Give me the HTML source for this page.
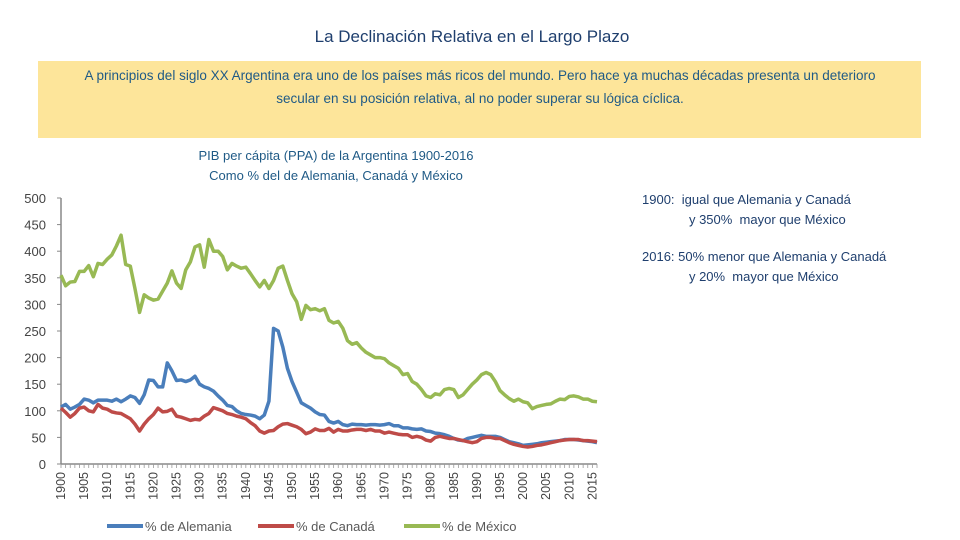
<!DOCTYPE html>
<html><head><meta charset="utf-8"><style>
body{margin:0;width:960px;height:540px;background:#fff;font-family:"Liberation Sans",sans-serif;position:relative;overflow:hidden}
.t{position:absolute;white-space:nowrap}
</style></head><body>
<div class="t" style="left:0;width:944px;top:27px;text-align:center;font-size:17px;color:#1f3f6e">La Declinación Relativa en el Largo Plazo</div>
<div style="position:absolute;left:38px;top:61px;width:883px;height:77px;background:#fde59a"></div>
<div class="t" style="left:80px;width:800px;top:64px;text-align:center;font-size:13.5px;line-height:23px;color:#1f5a86;white-space:normal">A principios del siglo XX Argentina era uno de los países más ricos del mundo. Pero hace ya muchas décadas presenta un deterioro secular en su posición relativa, al no poder superar su lógica cíclica.</div>
<div class="t" style="left:150px;width:372px;top:146px;text-align:center;font-size:13px;line-height:20px;color:#1f5a86">PIB per cápita (PPA) de la Argentina 1900-2016<br>Como % del de Alemania, Canadá y México</div>
<div class="t" style="left:642px;top:190px;font-size:13px;line-height:20px;color:#1f3f6e">1900:&nbsp; igual que Alemania y Canadá<br>&nbsp;&nbsp;&nbsp;&nbsp;&nbsp;&nbsp;&nbsp;&nbsp;&nbsp;&nbsp;&nbsp;&nbsp;&nbsp;y 350%&nbsp; mayor que México</div>
<div class="t" style="left:642px;top:247px;font-size:13px;line-height:20px;color:#1f3f6e">2016: 50% menor que Alemania y Canadá<br>&nbsp;&nbsp;&nbsp;&nbsp;&nbsp;&nbsp;&nbsp;&nbsp;&nbsp;&nbsp;&nbsp;&nbsp;&nbsp;y 20%&nbsp; mayor que México</div>
<svg id="chart" width="960" height="540" style="position:absolute;left:0;top:0"></svg>
<script>
const years=[];for(let y=1900;y<=2016;y++)years.push(y);
const yTicks=[0,50,100,150,200,250,300,350,400,450,500];
const seriesNames=["% de Alemania","% de Canadá","% de México"];
const alemania=[107,112,103,107,112,122,120,115,120,120,120,118,122,117,122,128,125,114,130,158,157,145,145,190,175,157,158,155,158,165,150,145,142,137,128,120,110,108,100,95,93,92,90,85,92,118,255,250,220,180,155,135,115,110,105,98,93,92,80,77,80,74,72,75,74,74,73,74,74,73,74,76,72,72,68,68,66,65,66,62,61,58,57,55,52,48,45,44,48,50,52,54,52,52,52,50,46,42,40,38,35,36,37,38,40,41,42,43,44,46,46,46,45,44,43,42,40];
const canada=[105,97,88,95,105,107,100,98,112,105,103,98,96,95,90,85,75,62,75,85,93,105,98,99,103,90,88,85,82,84,83,90,95,106,103,100,95,93,90,88,85,78,72,62,58,62,63,70,75,76,73,70,65,57,60,66,63,63,67,60,65,62,62,64,65,65,63,65,62,62,58,60,58,56,55,55,50,52,50,45,43,50,52,50,48,48,46,44,42,40,42,48,50,50,48,48,44,40,37,35,33,32,33,35,36,38,40,42,44,45,46,46,46,44,44,43,42];
const mexico=[355,335,342,343,362,362,373,352,377,375,385,393,410,430,375,372,330,285,318,312,308,310,325,340,363,340,330,365,380,408,412,370,422,400,400,390,365,377,372,368,370,358,345,333,345,330,345,368,372,345,320,305,272,298,290,292,288,292,270,265,268,255,232,225,228,218,210,205,200,200,198,190,185,180,168,170,155,150,140,128,125,132,130,140,142,140,125,130,140,150,158,168,172,168,155,138,130,123,118,122,117,115,104,108,110,112,113,118,122,121,127,128,126,122,122,118,117];
const colors=["#4a7ebb","#be4b48","#98b954"];
const svg=document.getElementById('chart');const NS='http://www.w3.org/2000/svg';
const x0=61,x1=597,yb=464,yt=198;
const X=y=>x0+(y-1900)*(x1-x0)/116;
const Y=v=>yb-v*(yb-yt)/500;
function mk(t,a){const e=document.createElementNS(NS,t);for(const k in a)e.setAttribute(k,a[k]);svg.appendChild(e);return e;}
let e=mk('line',{x1:x0,y1:yt,x2:x0,y2:yb,stroke:'#888','stroke-width':1.5});


e=mk('line',{x1:x0,y1:yb,x2:x1,y2:yb,stroke:'#888','stroke-width':1.5});


yTicks.forEach(v=>{
 const l=mk('line',{x1:x0-4,y1:Y(v),x2:x0,y2:Y(v),stroke:'#888'});
 
 
 const t=mk('text',{x:46,y:Y(v)+5,'text-anchor':'end','font-size':13,fill:'#444'});t.textContent=v;
 
 
});
years.forEach(y=>{
 const l=mk('line',{x1:X(y),y1:yb,x2:X(y),y2:yb+4,stroke:'#999','stroke-width':0.8});
 
 
 if(y%5==0){const t=mk('text',{x:0,y:0,'font-size':12.5,fill:'#444','text-anchor':'end',transform:`translate(${X(y)+4},${yb+8}) rotate(-90)`});t.textContent=y;
 
 }
});
[alemania,canada,mexico].forEach((s,i)=>{
 const p=mk('polyline',{points:s.map((v,k)=>X(years[k])+','+Y(v)).join(' '),fill:'none',stroke:colors[i],'stroke-width':3.5,'stroke-linejoin':'round'});
 
 
 const lx=[107,258,404][i];
 const l=mk('line',{x1:lx,y1:526,x2:lx+36,y2:526,stroke:colors[i],'stroke-width':4});
 
 
 const t=mk('text',{x:lx+38,y:531,'font-size':13,fill:'#595959'});t.textContent=seriesNames[i];
 
 
});
</script>
</body></html>
